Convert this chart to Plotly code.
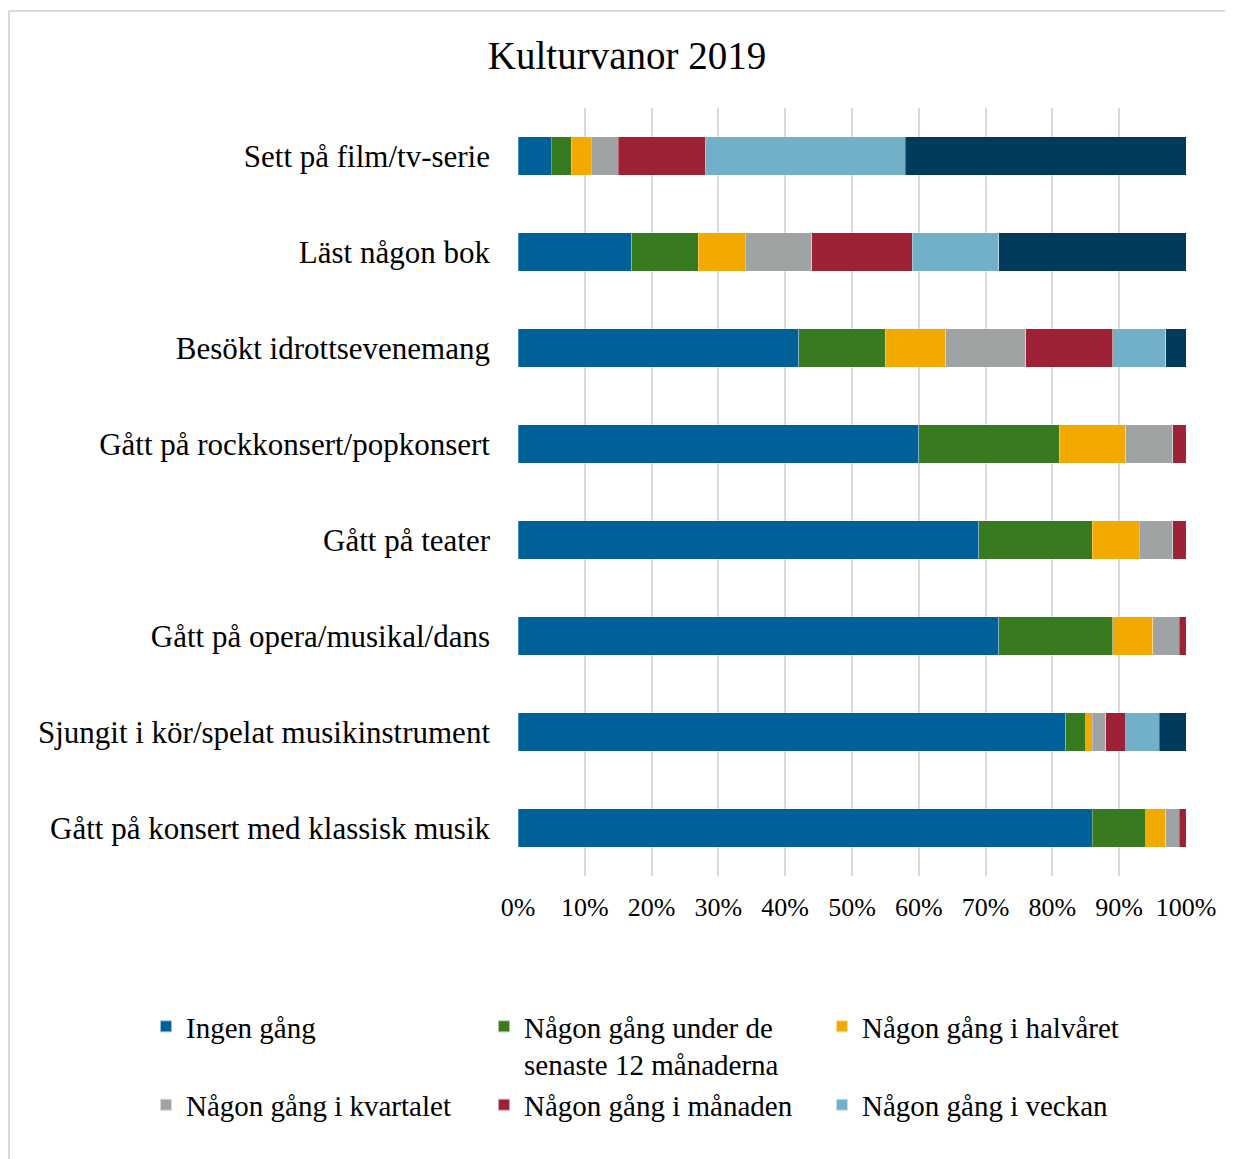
import plotly.graph_objects as go

categories = [
    "Sett på film/tv-serie",
    "Läst någon bok",
    "Besökt idrottsevenemang",
    "Gått på rockkonsert/popkonsert",
    "Gått på teater",
    "Gått på opera/musikal/dans",
    "Sjungit i kör/spelat musikinstrument",
    "Gått på konsert med klassisk musik",
]

ingen = [5, 17, 42, 60, 69, 72, 82, 86]
senaste12 = [3, 10, 13, 21, 17, 17, 3, 8]
halvaret = [3, 7, 9, 10, 7, 6, 1, 3]
kvartalet = [4, 10, 12, 7, 5, 4, 2, 2]
manaden = [13, 15, 13, 2, 2, 1, 3, 1]
veckan = [30, 13, 8, 0, 0, 0, 5, 0]
dagligen = [42, 28, 3, 0, 0, 0, 4, 0]

series_names = [
    "Ingen gång",
    "Någon gång under de<br>senaste 12 månaderna",
    "Någon gång i halvåret",
    "Någon gång i kvartalet",
    "Någon gång i månaden",
    "Någon gång i veckan",
    "Dagligen",
]
series_values = [ingen, senaste12, halvaret, kvartalet, manaden, veckan, dagligen]
colors = ["#006199", "#387A1F", "#F2AA00", "#A0A3A3", "#9E2236", "#72B0CA", "#023A5C"]
show_legend = [True, True, True, True, True, True, False]

FONT = "Liberation Serif"

fig = go.Figure()
for name, vals, col, sl in zip(series_names, series_values, colors, show_legend):
    fig.add_trace(go.Bar(
        y=categories,
        x=[v / 100 for v in vals],
        name=name,
        orientation="h",
        marker=dict(color=col, line=dict(width=0.5, color="rgba(255,255,255,0.6)")),
        showlegend=sl,
        width=0.4,
    ))

W, H = 1225, 1151
L, R, T, B = 510, 47, 100, 283
pw, ph = W - L - R, H - T - B

def px_x(x):
    return (x - L) / pw

def px_y(y):
    return (H - B - y) / ph

fig.update_layout(
    width=W, height=H,
    barmode="stack",
    bargap=0.6,
    plot_bgcolor="white",
    paper_bgcolor="white",
    margin=dict(l=L, r=R, t=T, b=B),
    font=dict(family=FONT, color="#000000", size=29),
    title=dict(
        text="Kulturvanor 2019",
        x=619 / W, xref="container", xanchor="center",
        y=1 - 47 / H, yref="container", yanchor="middle",
        font=dict(family=FONT, size=39, color="#000000"),
    ),
    xaxis=dict(
        range=[0, 1],
        tickvals=[i / 10 for i in range(11)],
        tickformat=".0%",
        showgrid=True,
        gridcolor="#d9d9d9",
        gridwidth=1.5,
        zeroline=False,
        showline=False,
        ticks="",
        ticklabelstandoff=13,
        tickfont=dict(family=FONT, size=26, color="#000000"),
    ),
    yaxis=dict(
        categoryorder="array",
        categoryarray=categories[::-1],
        autorange=False,
        range=[-0.5, 7.5],
        showgrid=False,
        zeroline=False,
        showline=False,
        ticks="",
        ticklabelstandoff=27,
        tickfont=dict(family=FONT, size=31, color="#000000"),
    ),
    legend=dict(
        orientation="h",
        x=px_x(138), xanchor="left",
        y=px_y(993), yanchor="top",
        entrywidth=293,
        entrywidthmode="pixels",
        traceorder="normal",
        valign="top",
        font=dict(family=FONT, size=29, color="#000000"),
        itemsizing="constant",
        tracegroupgap=0,
    ),
    shapes=[
        dict(type="line", xref="paper", yref="paper",
             x0=px_x(1), x1=px_x(1), y0=px_y(1300), y1=px_y(3),
             line=dict(color="#d9d9d9", width=2)),
        dict(type="line", xref="paper", yref="paper",
             x0=px_x(1), x1=px_x(1300), y0=px_y(3), y1=px_y(3),
             line=dict(color="#d9d9d9", width=2)),
    ],
)

fig.write_html("out.html")
